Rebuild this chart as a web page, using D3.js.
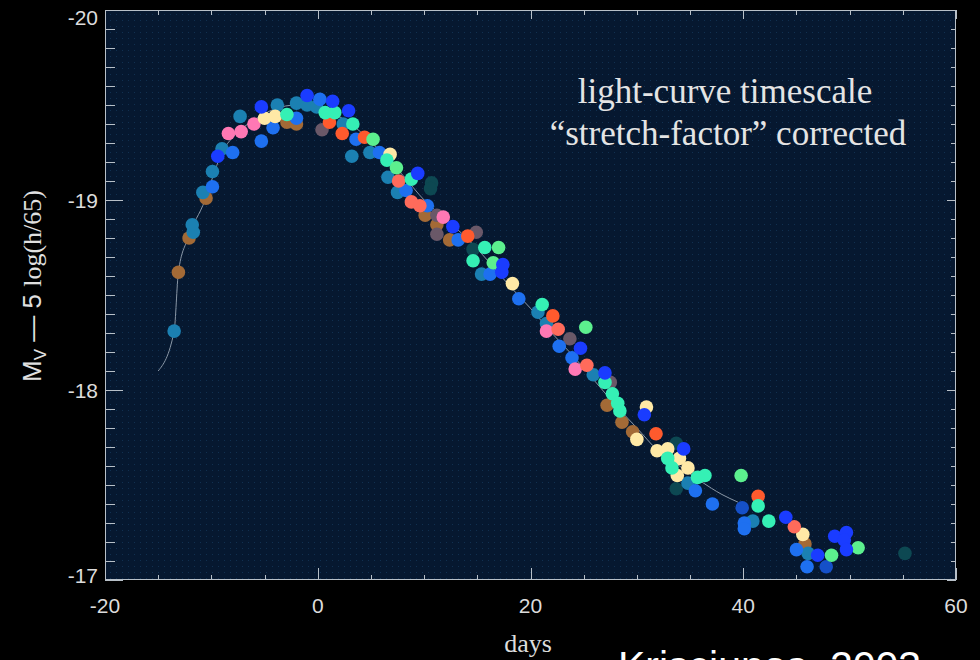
<!DOCTYPE html>
<html>
<head>
<meta charset="utf-8">
<script src="https://cdn.jsdelivr.net/npm/d3@7"></script>
<style>
  html, body { margin: 0; padding: 0; background: #000; overflow: hidden; }
  svg { display: block; }
</style>
</head>
<body>
<script>
// light curves of SNe Ia, one array per colour: [day, M_V - 5 log(h/65)]
var teal = [[-13.5,-18.31],[-11.7,-18.83],[-11.8,-18.87],[-10.8,-19.04],[-9.9,-19.15],[-9.0,-19.27],
            [-7.3,-19.44],[-3.8,-19.50],[-2.0,-19.51],[-1.0,-19.50],[-0.1,-19.49],[2.4,-19.40],
            [3.2,-19.23],[4.9,-19.25],[6.6,-19.12],[7.5,-19.04],[15.4,-18.61],[20.7,-18.41],
            [21.5,-18.35],[25.9,-18.08],[34.8,-17.51],[40.9,-17.31],[46.1,-17.14]]
var brightBlue = [[-9.4,-19.23],[-5.3,-19.49],[-1.0,-19.55],[1.4,-19.52],[2.9,-19.47],[9.4,-19.14],
                  [12.7,-18.86],[17.3,-18.62],[17.4,-18.66],[24.7,-18.22],[27.0,-18.09],[30.7,-17.87],
                  [34.4,-17.69],[44.0,-17.33],[47.0,-17.13],[48.6,-17.23],[49.7,-17.25],[49.5,-17.21],
                  [49.7,-17.16]]
var midBlue = [[-9.9,-19.07],[-8.0,-19.25],[-5.3,-19.31],[-4.2,-19.38],[-2.0,-19.43],[0.2,-19.53],
               [3.6,-19.32],[5.8,-19.25],[8.3,-19.05],[10.3,-18.97],[13.2,-18.79],[16.2,-18.61],
               [18.9,-18.48],[22.7,-18.23],[23.9,-18.17],[35.5,-17.47],[37.1,-17.40],[40.1,-17.30],
               [40.1,-17.27],[45.0,-17.16],[46.0,-17.07]]
var darkBlue = [[39.9,-17.38],[47.8,-17.07]]
var pink = [[-8.4,-19.35],[-7.2,-19.36],[-6.0,-19.40],[11.8,-18.91],[21.5,-18.31],[24.2,-18.11]]
var cream = [[-5.0,-19.43],[-4.0,-19.44],[6.8,-19.24],[18.3,-18.56],[30.9,-17.91],[30.0,-17.74],
             [31.9,-17.68],[32.9,-17.69],[34.0,-17.64],[34.8,-17.59],[33.8,-17.55],[45.6,-17.24]]
var mint = [[-2.9,-19.45],[0.7,-19.46],[1.6,-19.46],[3.3,-19.40],[6.5,-19.21],[8.8,-19.11],
            [14.6,-18.68],[15.7,-18.75],[21.1,-18.45],[27.0,-18.04],[27.7,-17.98],[28.2,-17.93],
            [28.4,-17.89],[32.9,-17.64],[33.3,-17.59],[36.4,-17.55],[35.7,-17.54],[41.4,-17.39],
            [42.4,-17.31]]
var lightGreen = [[5.2,-19.32],[7.4,-19.17],[16.5,-18.67],[17.0,-18.75],[25.2,-18.33],[39.8,-17.55],
                  [48.3,-17.13],[50.8,-17.17]]
var redOrange = [[1.1,-19.41],[2.3,-19.35],[4.4,-19.33],[14.1,-18.81],[22.1,-18.39],[31.8,-17.77],[41.4,-17.44]]
var salmon = [[7.6,-19.10],[8.8,-18.99],[9.6,-18.97],[22.6,-18.32],[25.3,-18.13],[44.8,-17.28]]
var brown = [[-13.1,-18.62],[-12.1,-18.80],[-10.5,-19.01],[-2.9,-19.41],[-2.0,-19.40],[10.1,-18.92],
             [11.2,-18.87],[12.4,-18.79],[27.2,-17.92],[28.6,-17.83],[29.6,-17.78],[45.8,-17.19]]
var grayPurple = [[0.4,-19.37],[11.2,-18.92],[11.2,-18.82],[14.9,-18.83],[23.7,-18.27],[27.5,-18.04]]
var darkTeal = [[10.7,-19.09],[10.6,-19.06],[14.6,-18.74],[33.7,-17.72],[33.7,-17.48],[55.2,-17.14]]

// template curve
var template = [[-15,-18.10],[-13.5,-18.31],[-13.1,-18.62],[-12.2,-18.80],[-10.6,-19.0],[-10,-19.1],
                [-9,-19.25],[-8,-19.33],[-6,-19.42],[-4,-19.48],[-2,-19.50],[0,-19.48],[2,-19.44],
                [4,-19.36],[6,-19.25],[8,-19.13],[10,-19.0],[12,-18.9],[14,-18.8],[16,-18.68],
                [18,-18.55],[20,-18.43],[22,-18.3],[24,-18.18],[26,-18.05],[28,-17.92],[30,-17.80],
                [32,-17.68],[34,-17.6],[36,-17.52],[38,-17.45],[39.5,-17.41]]

var xTicks = [-20, 0, 20, 40, 60]
var yTicks = [-20, -19, -18, -17]

var series = [
    { pts: darkTeal, color: "#0d4852" },
    { pts: brown, color: "#a36a36" },
    { pts: grayPurple, color: "#6a5868" },
    { pts: teal, color: "#1b80b2" },
    { pts: darkBlue, color: "#1550c8" },
    { pts: midBlue, color: "#1e70f0" },
    { pts: pink, color: "#ff78b4" },
    { pts: cream, color: "#ffe9a6" },
    { pts: salmon, color: "#ff6b5b" },
    { pts: redOrange, color: "#ff5a2d" },
    { pts: mint, color: "#35f0b5" },
    { pts: lightGreen, color: "#5cf08e" },
    { pts: brightBlue, color: "#1a3cff" }
]

var W = 980, H = 660
var x = d3.scaleLinear().domain([-20, 60]).range([105, 956])
var y = d3.scaleLinear().domain([-20, -17]).range([10, 580])

var svg = d3.select("body").append("svg").attr("width", W).attr("height", H)

svg.append("rect").attr("width", W).attr("height", H).attr("fill", "#000")

// faint dot lattice in the plot area
var pat = svg.append("defs").append("pattern")
    .attr("id", "dots").attr("width", 6).attr("height", 6)
    .attr("patternUnits", "userSpaceOnUse")
pat.append("rect").attr("width", 6).attr("height", 6).attr("fill", "#061830")
pat.append("rect").attr("x", 2).attr("y", 2).attr("width", 1).attr("height", 1).attr("fill", "#113050")

svg.append("rect")
    .attr("x", x(-20)).attr("y", y(-20))
    .attr("width", x(60) - x(-20)).attr("height", y(-17) - y(-20))
    .attr("fill", "url(#dots)")

// template line
svg.append("path")
    .datum(template)
    .attr("d", d3.line().x(d => x(d[0])).y(d => y(d[1])).curve(d3.curveMonotoneX))
    .attr("fill", "none")
    .attr("stroke", "#8a97a6")
    .attr("stroke-width", 1)

// points
series.forEach(function(s) {
    svg.append("g").selectAll("circle")
        .data(s.pts)
        .enter()
        .append("circle")
        .attr("cx", d => x(d[0]))
        .attr("cy", d => y(d[1]))
        .attr("r", 6.8)
        .attr("fill", s.color)
})

// frame + ticks on all four sides
var frameColor = "#b8c0c8"
var axisG = svg.append("g").attr("stroke", frameColor).attr("stroke-width", 1)
axisG.append("rect")
    .attr("x", x(-20) + 0.5).attr("y", y(-20) + 0.5)
    .attr("width", x(60) - x(-20) - 1).attr("height", y(-17) - y(-20) - 1)
    .attr("fill", "none")

var xMinor = d3.range(-20, 60.1, 5)
var yMinor = d3.range(-20, -16.95, 0.1)

xMinor.forEach(function(v) {
    var big = xTicks.indexOf(v) >= 0
    var px = Math.round(x(v)) + 0.5
    axisG.append("line").attr("x1", px).attr("x2", px)
        .attr("y1", y(-17)).attr("y2", y(-17) - (big ? 12 : 5))
    axisG.append("line").attr("x1", px).attr("x2", px)
        .attr("y1", y(-20)).attr("y2", y(-20) + (big ? 9 : 5))
})
yMinor.forEach(function(v) {
    var big = Math.abs(v - Math.round(v)) < 1e-6
    var py = Math.round(y(v)) + 0.5
    axisG.append("line").attr("y1", py).attr("y2", py)
        .attr("x1", x(-20)).attr("x2", x(-20) + (big ? 18 : 10))
    axisG.append("line").attr("y1", py).attr("y2", py)
        .attr("x1", x(60)).attr("x2", x(60) - (big ? 9 : 5))
})

// tick labels
var labelFont = "21px 'Liberation Sans', Arial, sans-serif"
svg.append("g").selectAll("text")
    .data(xTicks)
    .enter()
    .append("text")
    .attr("x", d => x(d))
    .attr("y", 613)
    .attr("text-anchor", "middle")
    .attr("fill", "#dcdcdc")
    .style("font", labelFont)
    .text(d => d)

// end labels are nudged inside the frame like the original
svg.append("g").selectAll("text")
    .data(yTicks)
    .enter()
    .append("text")
    .attr("x", 98)
    .attr("y", d => Math.min(Math.max(y(d) + 8, 25), 583))
    .attr("text-anchor", "end")
    .attr("fill", "#dcdcdc")
    .style("font", labelFont)
    .text(d => d)

// axis titles
svg.append("text")
    .attr("x", 528).attr("y", 652)
    .attr("text-anchor", "middle")
    .attr("fill", "#dcdcdc")
    .style("font", "26px 'Liberation Serif', 'Times New Roman', serif")
    .text("days")

var yl = svg.append("text")
    .attr("transform", "translate(41,286) rotate(-90)")
    .attr("text-anchor", "middle")
    .attr("fill", "#e0e0e0")
    .style("font", "26px 'Liberation Sans', Arial, sans-serif")
yl.append("tspan").text("M")
yl.append("tspan").attr("dy", 5).style("font-size", "17px").text("V")
yl.append("tspan").attr("dy", -5).text(" \u2014 5 ")
yl.append("tspan").style("font-family", "'Liberation Serif', serif").text("log(h/65)")

// annotation
var note = svg.append("text")
    .attr("text-anchor", "middle")
    .attr("fill", "#e4e4e4")
    .style("font", "35px 'Liberation Serif', 'Times New Roman', serif")
note.append("tspan").attr("x", 725).attr("y", 103).text("light-curve timescale")
note.append("tspan").attr("x", 728).attr("y", 145).text("\u201Cstretch-factor\u201D  corrected")

// citation, cut by the bottom edge
svg.append("text")
    .attr("x", 618).attr("y", 680)
    .attr("fill", "#ffffff")
    .style("font", "41px 'Liberation Sans', Arial, sans-serif")
    .text("Krisciunas, 2003")
</script>
</body>
</html>
